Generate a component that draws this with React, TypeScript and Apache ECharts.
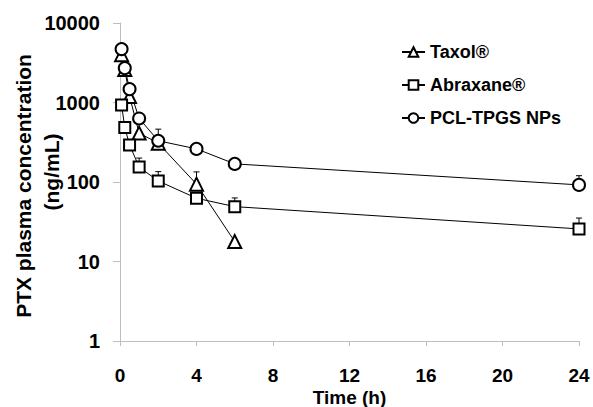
import React, { useEffect, useRef } from "react";
import * as echarts from "echarts";

const FONT = '"Liberation Sans", Arial, Helvetica, sans-serif';

const times = [0.083, 0.25, 0.5, 1, 2, 4, 6, 24];
const taxolTimes = [0.083, 0.25, 0.5, 1, 2, 4, 6];

const taxolValues = [4000, 2600, 1190, 412, 308, 94, 17.8];
const abraxaneValues = [927, 484, 293, 154, 103, 62.5, 49, 25.7];
const pclValues = [4700, 2710, 1475, 630, 330, 261, 169, 92];

// upward error (SD), 0 = not shown
const taxolErr = [0, 0, 0, 0, 154, 40, 0];
const abraxaneErr = [0, 0, 0, 46, 32, 0, 14, 9.5];
const pclErr = [0, 0, 0, 0, 0, 0, 0, 28];

const xTicks = [0, 4, 8, 12, 16, 20, 24];

const seriesNames = ["Taxol®", "Abraxane®", "PCL-TPGS NPs"];

function pairs(t: number[], v: number[]) {
  return t.map((x, i) => [x, v[i]]);
}

function errData(t: number[], v: number[], e: number[]) {
  const out: number[][] = [];
  t.forEach((x, i) => {
    if (e[i] > 0) out.push([x, v[i], v[i] + e[i]]);
  });
  return out;
}

function errorSeries(data: number[][]) {
  return {
    type: "custom",
    z: 1,
    silent: true,
    data,
    renderItem: (_params: any, api: any) => {
      const x = api.value(0);
      const lo = api.coord([x, api.value(1)]);
      const hi = api.coord([x, api.value(2)]);
      const half = 3;
      return {
        type: "group",
        children: [
          {
            type: "line",
            shape: { x1: lo[0], y1: lo[1], x2: hi[0], y2: hi[1] },
            style: { stroke: "#000", lineWidth: 1 },
          },
          {
            type: "line",
            shape: { x1: hi[0] - half, y1: hi[1], x2: hi[0] + half, y2: hi[1] },
            style: { stroke: "#000", lineWidth: 1 },
          },
        ],
      };
    },
  };
}

export default function App() {
  const ref = useRef<HTMLDivElement>(null);

  useEffect(() => {
    if (!ref.current) return;
    const chart = echarts.init(ref.current, undefined, { renderer: "svg" });
    const axisColor = "#bdbdbd";
    const labelStyle = {
      color: "#000",
      fontFamily: FONT,
      fontWeight: "bold" as const,
      fontSize: 20,
    };
    const lineSeries = (name: string, data: number[][], symbol: string, size: number) => ({
      name,
      type: "line",
      z: 3,
      data,
      symbol,
      symbolSize: size,
      showSymbol: true,
      lineStyle: { color: "#000", width: 1 },
      itemStyle: { color: "#000", borderColor: "#000", borderWidth: 1 },
    });

    chart.setOption({
      animation: false,
      backgroundColor: "#fff",
      grid: {
        left: 120,
        right: 14,
        top: 23,
        bottom: 66,
        containLabel: false,
        outerBoundsMode: "none",
      },
      legend: {
        data: seriesNames,
        orient: "vertical",
        left: 396,
        top: 38,
        itemWidth: 23,
        itemHeight: 12,
        itemGap: 15,
        textStyle: { color: "#000", fontFamily: FONT, fontWeight: "bold", fontSize: 18 },
      },
      xAxis: {
        type: "value",
        min: 0,
        max: 24,
        interval: 4,
        name: "Time (h)",
        nameLocation: "middle",
        nameGap: 56,
        nameMoveOverlap: false,
        nameTextStyle: { ...labelStyle, fontSize: 19, lineHeight: 19, verticalAlign: "middle" },
        axisLine: { show: true, lineStyle: { color: axisColor, width: 1 } },
        axisTick: { show: true, length: 5, lineStyle: { color: axisColor } },
        axisLabel: {
          ...labelStyle,
          fontSize: 19,
          lineHeight: 19,
          margin: 25,
          customValues: xTicks,
        },
        splitLine: { show: false },
      },
      yAxis: {
        type: "log",
        logBase: 10,
        min: 1,
        max: 10000,
        axisLine: { show: true, lineStyle: { color: axisColor, width: 1 } },
        axisTick: { show: true, length: 7, lineStyle: { color: axisColor } },
        axisLabel: { ...labelStyle, margin: 20, formatter: (v: number) => String(Math.round(v)) },
        splitLine: { show: false },
        minorTick: { show: false },
      },
      graphic: [
        {
          type: "text",
          x: 23,
          y: 186,
          rotation: Math.PI / 2,
          style: {
            text: "PTX plasma concentration",
            fill: "#000",
            font: `bold 21px ${FONT}`,
            align: "center",
            verticalAlign: "middle",
          },
        },
        {
          type: "text",
          x: 51,
          y: 172,
          rotation: Math.PI / 2,
          style: {
            text: "(ng/mL)",
            fill: "#000",
            font: `bold 21px ${FONT}`,
            align: "center",
            verticalAlign: "middle",
          },
        },
      ],
      series: [
        errorSeries(errData(taxolTimes, taxolValues, taxolErr)),
        errorSeries(errData(times, abraxaneValues, abraxaneErr)),
        errorSeries(errData(times, pclValues, pclErr)),
        lineSeries(seriesNames[0], pairs(taxolTimes, taxolValues), "emptyTriangle", 13),
        lineSeries(seriesNames[1], pairs(times, abraxaneValues), "emptyRect", 11),
        lineSeries(seriesNames[2], pairs(times, pclValues), "emptyCircle", 12),
      ],
    });
    return () => chart.dispose();
  }, []);

  return <div ref={ref} style={{ width: 593, height: 407, position: "absolute", left: 0, top: 0 }} />;
}
